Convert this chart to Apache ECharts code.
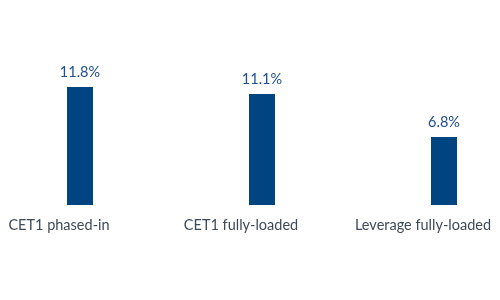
<!DOCTYPE html>
<html><head><meta charset="utf-8">
<script src="https://cdn.jsdelivr.net/npm/echarts@6/dist/echarts.min.js"></script>
<style>html,body{margin:0;padding:0;background:#fff;overflow:hidden;width:500px;height:300px}#c{width:546px;height:300px;margin-left:-11px}</style>
</head><body><div id="c"></div>
<script>
const categories = ["CET1 phased-in", "CET1 fully-loaded", "Leverage fully-loaded"];
const values = [11.8, 11.1, 6.8];
const chart = echarts.init(document.getElementById('c'), null, {renderer: 'canvas'});
chart.setOption({
  animation: false,
  grid: {left: 0, top: 87, right: 0, height: 118, containLabel: false},
  xAxis: {
    type: 'category', data: categories,
    axisLine: {show: false}, axisTick: {show: false},
    axisLabel: {
      interval: 0, margin: 13, color: '#3d4a57', fontFamily: 'Lato', fontSize: 14.5,
      padding: [0, 42, 0, 0]
    }
  },
  yAxis: {type: 'value', min: 0, max: 11.8, show: false, splitLine: {show: false}},
  series: [{
    type: 'bar', data: values, barWidth: 26,
    itemStyle: {color: '#004481'},
    label: {show: true, position: 'top', distance: 7, color: '#1d4f91', fontFamily: 'Lato', fontSize: 14.5,
      formatter: p => p.value.toFixed(1) + '%'}
  }]
});
</script></body></html>
